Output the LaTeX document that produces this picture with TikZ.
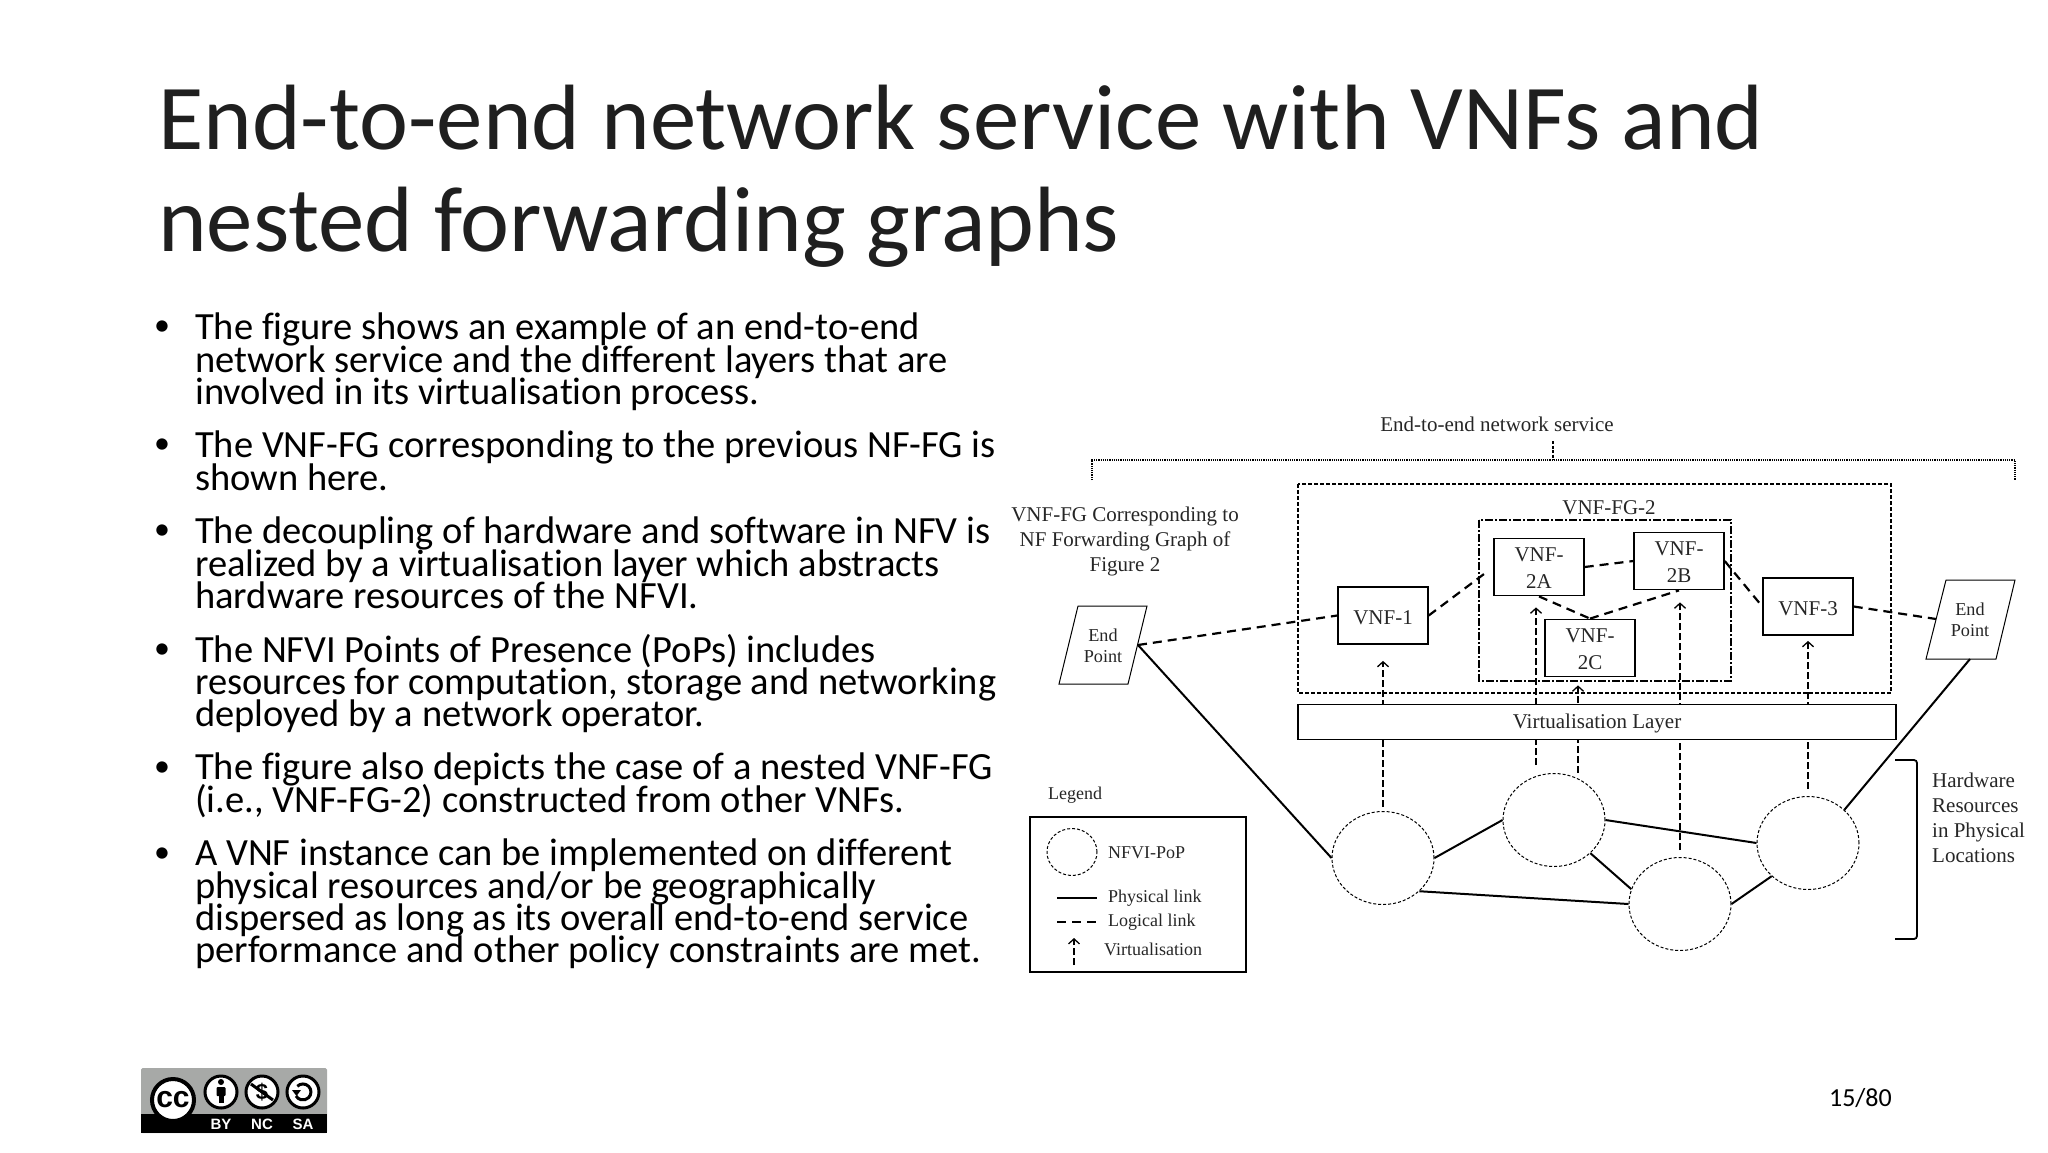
\documentclass[tikz,border=0pt]{standalone}
\usepackage{fontspec}
\setmainfont{Carlito}[Ligatures=NoCommon]
\newfontfamily\figfont{Liberation Serif}
\newfontfamily\badgefont{Liberation Sans}
\usetikzlibrary{shapes.geometric,arrows.meta}
\definecolor{badgegrey}{HTML}{A7A9A7}
\newcommand{\tightlines}{\lineskiplimit=-100pt\relax}
\newcommand{\lowered}[2]{\raisebox{-#1}[\height][\depth]{#2}}
\tikzset{
  headline/.style={anchor=base west,inner sep=0pt,font=\fontsize{92.8}{102}\selectfont,text=black!88},
  bodytext/.style={anchor=north west,inner sep=0pt,align=left,font=\fontsize{38.5}{32.3}\selectfont\tightlines},
  bulletdot/.style={inner sep=0pt,font=\fontsize{32}{32}\selectfont},
  figtext/.style={inner sep=0pt,align=center,text=black!85,font=\figfont\fontsize{21}{25}\selectfont},
  legendtext/.style={figtext,anchor=west,font=\figfont\fontsize{18}{20}\selectfont},
  vnfbox/.style={figtext,font=\figfont\fontsize{21}{27}\selectfont,draw,line width=1.8pt,fill=white,minimum width=89.6pt,minimum height=57pt},
  pop/.style={draw,ellipse,dash pattern=on 3pt off 2pt,line width=1pt,fill=white,inner sep=0pt,minimum width=102pt,minimum height=93pt},
  physical/.style={line width=2pt},
  logical/.style={line width=2.2pt,dash pattern=on 9pt off 6pt},
  virt/.style={line width=1.3pt,dash pattern=on 7pt off 3pt,-{Straight Barb[length=5pt,width=11pt]}},
  badgering/.style={draw=black,line width=3pt,fill=white}
}
\begin{document}
\begin{tikzpicture}[x=1pt,y=-1pt]
  \useasboundingbox (0,0) rectangle (2048,1152);
  \node[headline] (title1) at (158,149) {End-to-end network service with VNFs and};
  \node[headline] (title2) at (158,251) {nested forwarding graphs};

  \node[bodytext] (b1) at (195,313) {The figure shows an example of an end-to-end\\network service and the different layers that are\\involved in its virtualisation process.};
  \node[bodytext] (b2) at (195,431) {The VNF-FG corresponding to the previous NF-FG is\\shown here.};
  \node[bodytext] (b3) at (195,517) {The decoupling of hardware and software in NFV is\\realized by a virtualisation layer which abstracts\\hardware resources of the NFVI.};
  \node[bodytext] (b4) at (195,634) {The NFVI Points of Presence (PoPs) includes\\resources for computation, storage and networking\\deployed by a network operator.};
  \node[bodytext] (b5) at (195,753) {The figure also depicts the case of a nested VNF-FG\\(i.e., VNF-FG-2) constructed from other VNFs.};
  \node[bodytext] (b6) at (195,839) {A VNF instance can be implemented on different\\physical resources and/or be geographically\\dispersed as long as its overall end-to-end service\\performance and other policy constraints are met.};
  \node[bulletdot] (d1) at (162,328) {•};
  \node[bulletdot] (d2) at (162,446) {•};
  \node[bulletdot] (d3) at (162,532) {•};
  \node[bulletdot] (d4) at (162,651) {•};
  \node[bulletdot] (d5) at (162,769) {•};
  \node[bulletdot] (d6) at (162,855) {•};

  \node[figtext] (service) at (1497,424) {End-to-end network service};
  \coordinate (braceL) at (1092,480);
  \coordinate (braceLtop) at (1092,460);
  \coordinate (braceM) at (1553,460);
  \coordinate (braceMtop) at (1553,441);
  \coordinate (braceRtop) at (2015,460);
  \coordinate (braceR) at (2015,480);
  \draw[line width=1.7pt,dash pattern=on 1.2pt off 1pt] (braceL) -- (braceLtop) -- (braceRtop) -- (braceR);
  \draw[line width=1.2pt,dash pattern=on 3pt off 1.5pt] (braceMtop) -- (braceM);

  \node[figtext] (caption) at (1125,541) {VNF-FG Corresponding to\\NF Forwarding Graph of\\Figure 2};
  \draw[line width=1.2pt,dash pattern=on 4pt off 2pt] (1298,484) rectangle (1891,693);
  \draw[line width=1.2pt,dash pattern=on 8pt off 2pt on 2pt off 2pt] (1479,520) rectangle (1731,681);
  \node[figtext] (fg2) at (1609,508) {VNF-FG-2};

  \node[vnfbox] (vnf1) at (1383,615.5) {\lowered{2.5pt}{VNF-1}};
  \node[vnfbox] (vnfa) at (1539,567) {\lowered{1pt}{VNF-}\\\lowered{1pt}{2A}};
  \node[vnfbox] (vnfb) at (1679,561) {\lowered{1pt}{VNF-}\\\lowered{1pt}{2B}};
  \node[vnfbox] (vnfc) at (1590,648) {\lowered{1pt}{VNF-}\\\lowered{1pt}{2C}};
  \node[vnfbox] (vnf3) at (1808,606.5) {\lowered{2.5pt}{VNF-3}};

  \draw[line width=1pt] (1078,606) -- (1147,606) -- (1128,684) -- (1059,684) -- cycle;
  \draw[line width=1pt] (1946,580) -- (2015,580) -- (1996,659) -- (1926,659) -- cycle;
  \node[figtext,font=\figfont\fontsize{18.2}{21}\selectfont] (epl) at (1103,646) {End\\Point};
  \node[figtext,font=\figfont\fontsize{18.2}{21}\selectfont] (epr) at (1970,620) {End\\Point};
  \coordinate (eplLink) at (1138,645);
  \coordinate (eprLink) at (1936,619);
  \coordinate (eprFoot) at (1970,659);

  \node[pop] (pop1) at (1383,858) {};
  \node[pop] (pop2) at (1554,820) {};
  \node[pop] (pop3) at (1680,904) {};
  \node[pop] (pop4) at (1808,843) {};

  \begin{scope}[logical]
    \draw (eplLink) to (vnf1.west);
    \draw[shorten >=6pt] (vnf1.east) to (vnfa.west);
    \draw (vnfa.east) to (vnfb.west);
    \draw (vnfa.south) to (vnfc.north);
    \draw (vnfc.north) to (vnfb.south);
    \draw (vnfb.east) to (vnf3.west);
    \draw (vnf3.east) to (eprLink);
  \end{scope}

  \coordinate (virtA) at (1536,765);
  \coordinate (virtC) at (1578,773);
  \draw[virt,shorten <=4pt,shorten >=16pt] (pop1.north) to (vnf1.south);
  \draw[virt,shorten >=11pt] (virtA) to (virtA |- vnfa.south);
  \draw[virt,shorten >=8pt] (virtC) to (virtC |- vnfc.south);
  \draw[virt,shorten <=7pt,shorten >=12pt] (pop3.north) to (pop3.north |- vnfb.south);
  \draw[virt,shorten <=7pt,shorten >=5pt] (pop4.north) to (pop4.north |- vnf3.south);

  \node[figtext,draw,fill=white,line width=1.8pt,minimum width=598pt,minimum height=35pt] (layer) at (1597,722) {\lowered{1.5pt}{Virtualisation Layer}};

  \begin{scope}[physical]
    \draw (eplLink) to (pop1.west);
    \draw (eprFoot) to (pop4.north east);
    \draw (pop1.east) to (pop2.west);
    \draw (pop2.east) to (pop4.west);
    \draw (pop2.south east) to (pop3.163);
    \draw (pop1.south east) to (pop3.west);
    \draw (pop3.east) to (pop4.south west);
  \end{scope}

  \coordinate (brackA) at (1895,760);
  \coordinate (brackB) at (1917,760);
  \coordinate (brackC) at (1917,939);
  \coordinate (brackD) at (1895,939);
  \draw[line width=1.8pt,rounded corners=3pt] (brackA) -- (brackB) -- (brackC) -- (brackD);
  \node[figtext,anchor=west,align=left] (hardware) at (1932,818) {Hardware\\Resources\\in Physical\\Locations};

  \node[figtext,font=\figfont\fontsize{18}{20}\selectfont] (legend) at (1075,795) {Legend};
  \draw[line width=1.4pt] (1030,817) rectangle (1246,972);
  \node[pop,minimum width=50pt,minimum height=47pt] (legpop) at (1072,852) {};
  \node[legendtext] (legpoptext) at (1108,853) {NFVI-PoP};
  \coordinate (legPa) at (1057,898);
  \coordinate (legPb) at (1097,898);
  \coordinate (legLa) at (1057,922);
  \coordinate (legLb) at (1097,922);
  \coordinate (legVa) at (1074,965);
  \coordinate (legVb) at (1074,938);
  \draw[line width=2.6pt] (legPa) to (legPb);
  \draw[line width=2.6pt,dash pattern=on 9pt off 6pt] (legLa) to (legLb);
  \draw[virt] (legVa) to (legVb);
  \node[legendtext] (legphys) at (1108,898) {Physical link};
  \node[legendtext] (leglog) at (1108,922) {Logical link};
  \node[legendtext] (legvirt) at (1104,949) {Virtualisation};

  \fill[badgegrey,rounded corners=1.5pt] (141,1068) rectangle (327,1133);
  \fill[black] (141,1114) rectangle (327,1133);
  \node[badgering,circle,line width=4pt,minimum size=42pt,inner sep=0pt,font=\badgefont\bfseries\fontsize{30}{30}\selectfont] (cc) at (173,1100) {\raisebox{2pt}{cc}};
  \node[badgering,circle,minimum size=32pt,inner sep=0pt] (by) at (221,1092) {};
  \node[badgering,circle,minimum size=32pt,inner sep=0pt,font=\badgefont\bfseries\fontsize{22}{22}\selectfont] (nc) at (262,1092) {\$};
  \node[badgering,circle,minimum size=32pt,inner sep=0pt] (sa) at (303,1092) {};
  \fill (221,1082) circle (3pt);
  \fill[rounded corners=1pt] (216.5,1087) rectangle (225.5,1096);
  \fill (218.5,1095) rectangle (223.5,1103);
  \draw[line width=3pt] (251,1084) -- (273,1100);
  \draw[line width=3pt] (297.3,1086.3) arc (135:-150:8pt);
  \fill (292,1090) -- (301,1090) -- (296.5,1096) -- cycle;
  \node[inner sep=0pt,text=white,font=\badgefont\bfseries\fontsize{15}{15}\selectfont] (bytext) at (221,1124) {BY};
  \node[inner sep=0pt,text=white,font=\badgefont\bfseries\fontsize{15}{15}\selectfont] (nctext) at (262,1124) {NC};
  \node[inner sep=0pt,text=white,font=\badgefont\bfseries\fontsize{15}{15}\selectfont] (satext) at (303,1124) {SA};

  \node[inner sep=0pt,anchor=east,font=\fontsize{26}{26}\selectfont] (pagenum) at (1892,1098) {15/80};
\end{tikzpicture}
\end{document}
